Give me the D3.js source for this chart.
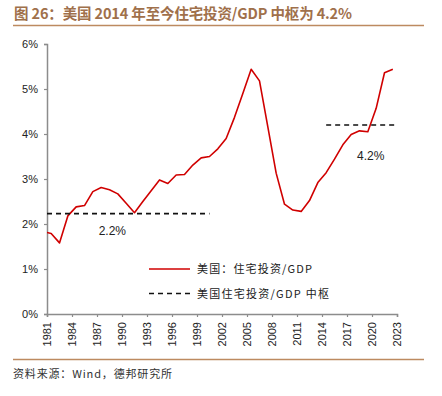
<!DOCTYPE html>
<html><head><meta charset="utf-8">
<script src="https://cdn.jsdelivr.net/npm/d3@7"></script>
<style>body{margin:0;background:#fff;}svg{display:block;}</style>
</head><body>
<svg id="c" width="442" height="396"></svg>
<script>
const years = [1980,1981,1982,1983,1984,1985,1986,1987,1988,1989,1990,1991,1992,1993,1994,1995,1996,1997,1998,1999,2000,2001,2002,2003,2004,2005,2006,2007,2008,2009,2010,2011,2012,2013,2014,2015,2016,2017,2018,2019,2020,2021,2022];
const values = [1.83,1.79,1.58,2.18,2.38,2.41,2.72,2.81,2.76,2.67,2.46,2.25,2.50,2.74,2.98,2.90,3.09,3.10,3.31,3.47,3.50,3.67,3.90,4.37,4.90,5.44,5.18,4.16,3.13,2.44,2.31,2.28,2.52,2.92,3.14,3.44,3.76,3.99,4.07,4.05,4.57,5.36,5.44];
const pivots = [{from:1980.5,to:2000.5,value:2.23,label:"2.2%"},{from:2014.5,to:2023,value:4.2,label:"4.2%"}];
const xTicks = [1981,1984,1987,1990,1993,1996,1999,2002,2005,2008,2011,2014,2017,2020,2023];
const yTicks = [0,1,2,3,4,5,6];
const title = "图 26：美国 2014 年至今住宅投资/GDP 中枢为 4.2%";
const source = "资料来源：Wind，德邦研究所";
const legendNames = ["美国：住宅投资/GDP","美国住宅投资/GDP 中枢"];

const svg = d3.select("#c");
const L=47, R=397, T=44, B=314;
const x = d3.scaleLinear().domain([1981,2023]).range([L,R]);
const y = d3.scaleLinear().domain([0,6]).range([B,T]);
const font = "'Liberation Sans', Arial, sans-serif";
const cjk = "'Noto Sans CJK SC', sans-serif";

// title
svg.append("text").attr("x",14).attr("y",19).attr("fill","#a0704b")
  .attr("font-family",cjk).attr("font-weight","bold").attr("font-size",14.5)
  .attr("textLength",338).attr("lengthAdjust","spacing").text(title);
svg.append("line").attr("x1",13).attr("x2",424).attr("y1",25.5).attr("y2",25.5)
  .attr("stroke","#bd8a60").attr("stroke-width",1.6);
svg.append("line").attr("x1",13).attr("x2",424).attr("y1",359.5).attr("y2",359.5)
  .attr("stroke","#bd8a60").attr("stroke-width",1.6);
svg.append("text").attr("x",13).attr("y",378).attr("fill","#333")
  .attr("font-family",cjk).attr("font-size",11)
  .attr("textLength",159).attr("lengthAdjust","spacing").text(source);

// axes
const yAxis = svg.append("g").attr("transform",`translate(${L},0)`)
  .call(d3.axisLeft(y).tickValues(yTicks).tickFormat(d=>d+"%").tickSize(3).tickPadding(6));
const xAxis = svg.append("g").attr("transform",`translate(0,${B})`)
  .call(d3.axisBottom(x).tickValues(xTicks).tickFormat(d=>d).tickSize(3));
[yAxis,xAxis].forEach(g=>{
  g.select(".domain").attr("stroke","#8c8c8c").attr("stroke-width",1.5);
  g.selectAll(".tick line").attr("stroke","#8c8c8c").attr("stroke-width",1.2);
  g.selectAll("text").attr("font-family",font).attr("font-size",11).attr("fill","#222");
});
xAxis.selectAll(".tick text").attr("transform","rotate(-90)")
  .attr("text-anchor","end").attr("x",-8).attr("y",0).attr("dy","0.35em");

// clip
svg.append("clipPath").attr("id","clip").append("rect")
  .attr("x",L).attr("y",T-10).attr("width",R-L+5).attr("height",B-T+10);

const data = years.map((yr,i)=>({x:yr+0.5,v:values[i]}));
const line = d3.line().x(d=>x(d.x)).y(d=>y(d.v));
svg.append("path").datum(data).attr("clip-path","url(#clip)")
  .attr("d",line).attr("fill","none").attr("stroke","#d00000").attr("stroke-width",1.6)
  .attr("stroke-linejoin","round");

pivots.forEach((p,i)=>{
  svg.append("line").attr("clip-path","url(#clip)")
    .attr("x1",x(Math.max(p.from,1981))).attr("x2",x(p.to))
    .attr("y1",y(p.value)).attr("y2",y(p.value))
    .attr("stroke","#111").attr("stroke-width",1.6).attr("stroke-dasharray","5,4");
});
svg.append("text").attr("x",x(1987.2)).attr("y",y(pivots[0].value)+21).attr("font-family",font)
  .attr("font-size",12).attr("fill","#222").text(pivots[0].label);
svg.append("text").attr("x",x(2018.2)).attr("y",y(pivots[1].value)+35).attr("font-family",font)
  .attr("font-size",12).attr("fill","#222").text(pivots[1].label);

// legend
const lg = svg.append("g");
lg.append("line").attr("x1",149).attr("x2",190).attr("y1",269).attr("y2",269)
  .attr("stroke","#d00000").attr("stroke-width",1.6);
lg.append("line").attr("x1",149).attr("x2",190).attr("y1",293.5).attr("y2",293.5)
  .attr("stroke","#111").attr("stroke-width",1.6).attr("stroke-dasharray","5,4");
lg.append("text").attr("x",197).attr("y",273).attr("font-family",cjk).attr("font-size",11)
  .attr("fill","#222").attr("textLength",115).attr("lengthAdjust","spacing").text(legendNames[0]);
lg.append("text").attr("x",197).attr("y",297.5).attr("font-family",cjk).attr("font-size",11)
  .attr("fill","#222").attr("textLength",132).attr("lengthAdjust","spacing").text(legendNames[1]);
</script>
</body></html>
